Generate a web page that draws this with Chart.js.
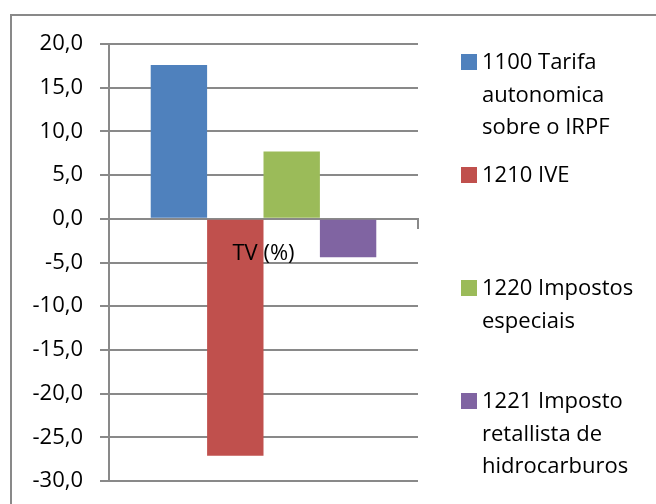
<!DOCTYPE html>
<html lang="pt">
<head>
  <meta charset="UTF-8" />
  <title>TV (%)</title>
  <script src="https://cdn.jsdelivr.net/npm/chart.js@4.4.3/dist/chart.umd.js"></script>
  <style>
    *{margin:0;padding:0;box-sizing:border-box}
    body{background:#fff;width:656px;height:504px;overflow:hidden}
    canvas{display:block}
  </style>
</head>
<body>
  <canvas id="tvChart" width="656" height="504"></canvas>

  <script>
    /* ==== DATA ==== */
    const categories   = ['TV (%)'];
    const seriesNames  = [
      '1100 Tarifa autonomica sobre o IRPF',
      '1210 IVE',
      '1220 Impostos especiais',
      '1221 Imposto retallista de hidrocarburos'
    ];
    const legendLines  = [
      ['1100 Tarifa', 'autonomica', 'sobre o IRPF'],
      ['1210 IVE'],
      ['1220 Impostos', 'especiais'],
      ['1221 Imposto', 'retallista de', 'hidrocarburos']
    ];
    const seriesValues = [17.6, -27.1, 7.7, -4.4];
    const yMin = -30, yMax = 20, yStep = 5;

    /* ==== STYLE ==== */
    const palette = ['#4F81BD', '#C0504D', '#9BBB59', '#8064A2'];
    const GRID = '#898989';
    const FONT = '"Open Sans", sans-serif';
    Chart.defaults.font.family = FONT;
    Chart.defaults.color = '#000';

    /* frame round the whole chart (only left + top visible) */
    const framePlugin = {
      id: 'frame',
      beforeDraw(chart){
        const {ctx} = chart;
        ctx.save();
        ctx.fillStyle = '#fff';
        ctx.fillRect(0, 0, chart.width, chart.height);
        ctx.strokeStyle = GRID;
        ctx.lineWidth = 2;
        ctx.strokeRect(11, 15, 700, 600);
        ctx.restore();
      }
    };

    /* wrapped legend on the right, items spread evenly like Excel */
    const sideLegend = {
      id: 'sideLegend',
      afterDraw(chart){
        const {ctx} = chart;
        ctx.save();
        ctx.font = '22px ' + FONT;
        ctx.textBaseline = 'middle';
        chart.data.datasets.forEach((ds, i) => {
          const y0 = 62 + i * 113;
          ctx.fillStyle = ds.backgroundColor;
          ctx.fillRect(461, y0 - 8, 16, 16);
          ctx.fillStyle = '#000';
          legendLines[i].forEach((line, k) => ctx.fillText(line, 482, y0 + 1 + k * 32.3));
        });
        ctx.restore();
      }
    };

    const datasets = seriesNames.map((name, i) => ({
      label: name,
      data: [seriesValues[i]],
      backgroundColor: palette[i],
      borderWidth: 0,
      barPercentage: 1,
      categoryPercentage: 0.73
    }));

    new Chart(document.getElementById('tvChart'), {
      type: 'bar',
      data: { labels: categories, datasets },
      options: {
        responsive: false,
        animation: false,
        layout: { padding: { left: 0, top: 44, right: 238, bottom: 23 } },
        plugins: { legend: { display: false }, tooltip: { enabled: false } },
        scales: {
          x: {
            position: { y: 0 },
            grid: { drawOnChartArea: false, drawTicks: true, tickLength: 9, color: GRID, lineWidth: 2, offset: true },
            border: { display: true, color: GRID, width: 2 },
            ticks: { color: '#000', font: { size: 22 }, padding: 13, z: 1 }  // label drawn over the bars
          },
          y: {
            min: yMin, max: yMax,
            afterFit: s => { s.width = 109; s.paddingTop = 0; s.paddingBottom = 0; },
            ticks: {
              stepSize: yStep,
              padding: 17,
              color: '#000',
              font: { size: 22 },
              callback: v => v.toFixed(1).replace('.', ',')
            },
            grid: { color: GRID, lineWidth: 2, tickLength: 9 },
            border: { display: true, color: GRID, width: 2 }
          }
        }
      },
      plugins: [framePlugin, sideLegend]
    });
  </script>
</body>
</html>
